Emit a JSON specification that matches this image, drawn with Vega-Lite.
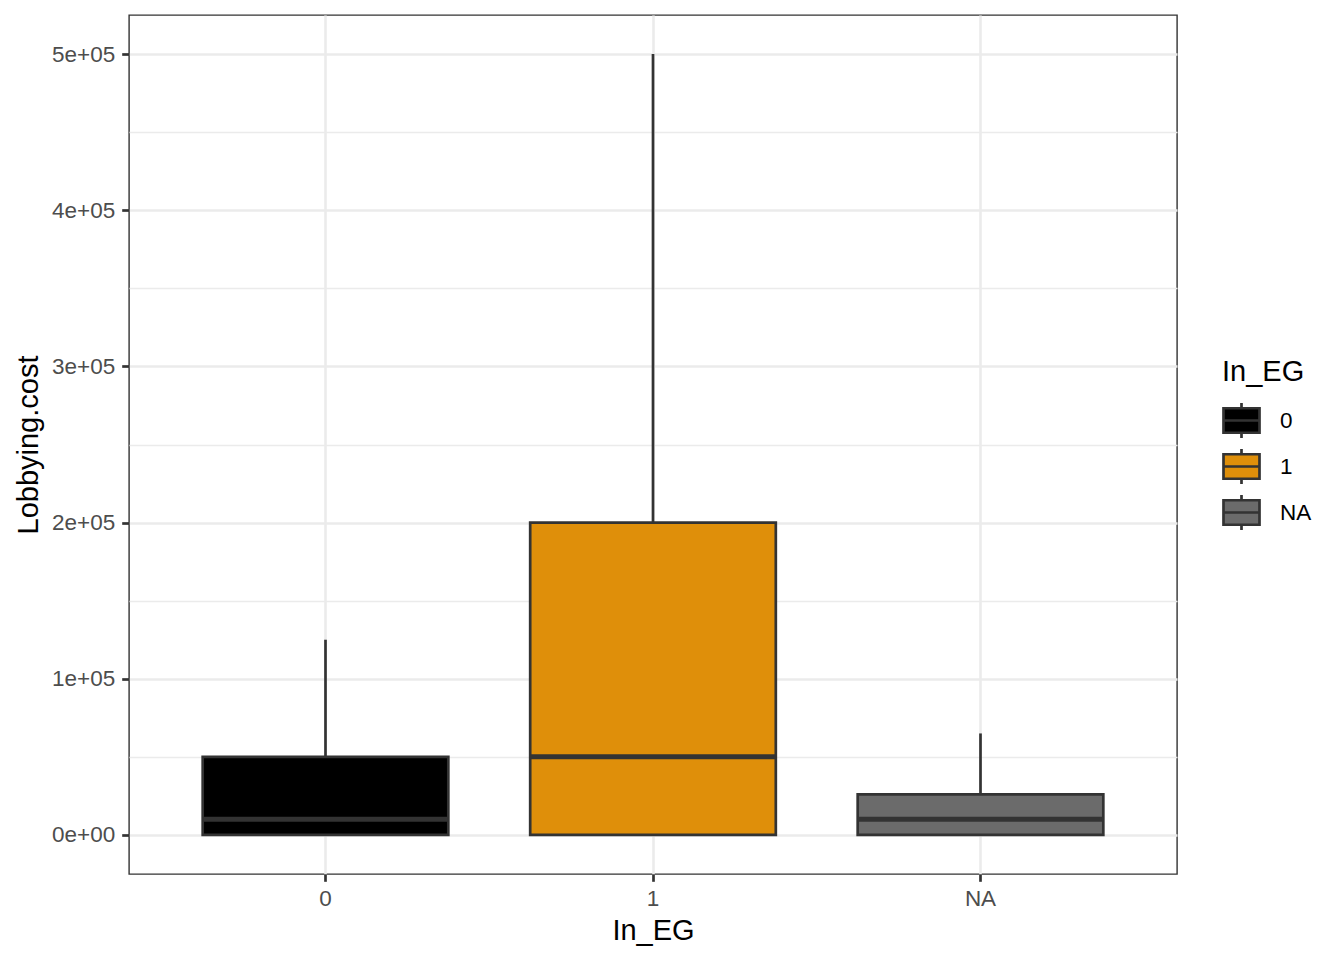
{
  "$schema": "https://vega.github.io/schema/vega-lite/v6.json",
  "width": 1048,
  "height": 859,
  "autosize": {"type": "none"},
  "padding": {"left": 129, "top": 15, "right": 167, "bottom": 86},
  "background": "white",
  "config": {
    "font": "Liberation Sans",
    "view": {"stroke": "#333333", "strokeWidth": 1.4},
    "axis": {
      "domain": false,
      "labelFont": "Liberation Sans",
      "titleFont": "Liberation Sans",
      "labelFontSize": 22.5,
      "labelColor": "#4D4D4D",
      "titleFontSize": 29,
      "titleColor": "#000000",
      "titleFontWeight": "normal",
      "tickColor": "#333333",
      "tickSize": 7.3,
      "tickWidth": 2.7,
      "labelPadding": 6,
      "gridColor": "#EBEBEB"
    },
    "legend": {
      "titleFont": "Liberation Sans",
      "labelFont": "Liberation Sans"
    }
  },
  "data": {
    "values": [
      {"In_EG": "0", "lower": 0, "q1": 0, "median": 10000, "q3": 50000, "upper": 125000},
      {"In_EG": "1", "lower": 0, "q1": 0, "median": 50000, "q3": 200000, "upper": 500000},
      {"In_EG": "NA", "lower": 0, "q1": 0, "median": 10000, "q3": 26000, "upper": 65000}
    ]
  },
  "encoding": {
    "x": {
      "field": "In_EG",
      "type": "nominal",
      "scale": {"type": "band", "paddingInner": 0.25, "paddingOuter": 0.225},
      "axis": {
        "title": "In_EG",
        "labelAngle": 0,
        "bandPosition": 0.5,
        "grid": true,
        "gridWidth": 2.6,
        "labelPadding": 6,
        "titlePadding": 7
      }
    }
  },
  "layer": [
    {
      "mark": {"type": "rule", "color": "#333333", "strokeWidth": 2.7},
      "encoding": {
        "y": {
          "field": "lower",
          "type": "quantitative",
          "scale": {"domain": [-25000, 525000], "nice": false, "zero": false},
          "axis": {
            "title": "Lobbying.cost",
            "values": [0, 50000, 100000, 150000, 200000, 250000, 300000, 350000, 400000, 450000, 500000],
            "labelExpr": "datum.value % 100000 === 0 ? replace(format(datum.value, '.0e'), 'e+', 'e+0') : ''",
            "grid": true,
            "gridWidth": {"condition": {"test": "datum.value % 100000 === 0", "value": 2.6}, "value": 1.3},
            "tickOpacity": {"condition": {"test": "datum.value % 100000 === 0", "value": 1}, "value": 0},
            "labelPadding": 7,
            "titlePadding": 8
          }
        },
        "y2": {"field": "upper"}
      }
    },
    {
      "mark": {"type": "bar", "stroke": "#333333", "strokeWidth": 2.7, "opacity": 1},
      "encoding": {
        "y": {"field": "q1", "type": "quantitative"},
        "y2": {"field": "q3"},
        "fill": {
          "field": "In_EG",
          "type": "nominal",
          "scale": {"domain": ["0", "1", "NA"], "range": ["#000000", "#DF8F0A", "#6B6B6B"]},
          "legend": {
            "title": "In_EG",
            "orient": "none",
            "legendX": 1093,
            "legendY": 343,
            "titleFontSize": 29,
            "titleFontWeight": "normal",
            "titleColor": "#000000",
            "titlePadding": 14,
            "labelFontSize": 22.5,
            "labelColor": "#000000",
            "labelOffset": 19,
            "symbolType": "M-1,-0.68H1V0.68H-1Z M0,-0.68V-0.97 M0,0.68V0.97 M-1,0H1",
            "symbolSize": 1296,
            "symbolStrokeColor": "#333333",
            "symbolStrokeWidth": 2.7,
            "symbolOpacity": 1,
            "rowPadding": -1
          }
        }
      }
    },
    {
      "mark": {"type": "tick", "color": "#333333", "thickness": 5, "size": 245, "opacity": 1},
      "encoding": {
        "y": {"field": "median", "type": "quantitative"}
      }
    }
  ]
}
